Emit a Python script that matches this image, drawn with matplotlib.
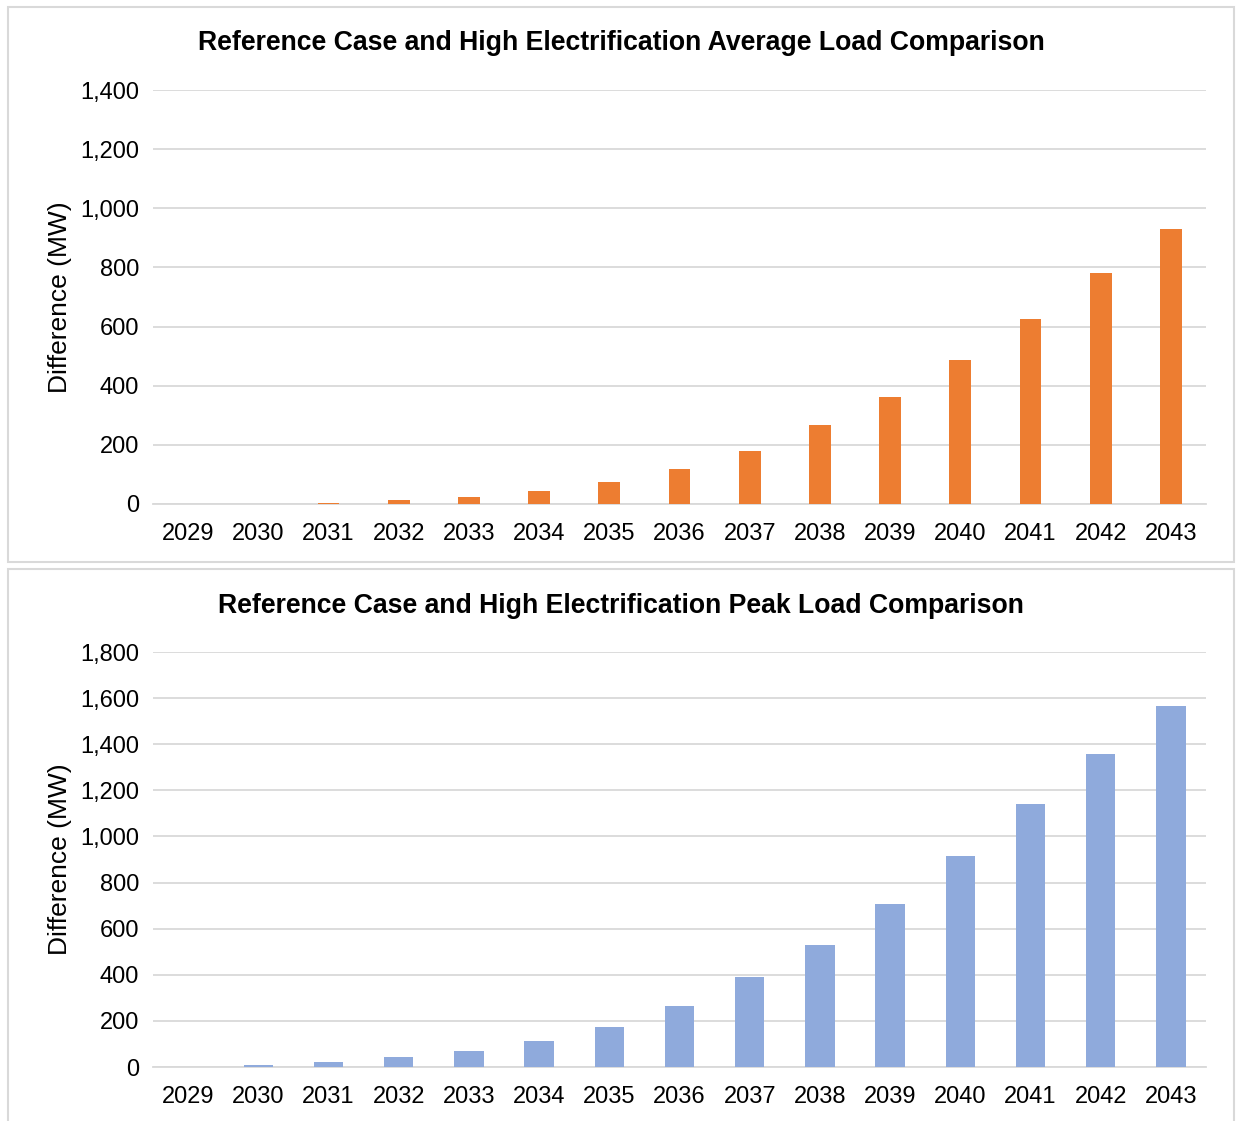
import numpy as np
import matplotlib.pyplot as plt
from matplotlib.patches import Rectangle
from matplotlib.ticker import FuncFormatter

plt.rcParams["font.family"] = ["Liberation Sans", "DejaVu Sans"]

years = [str(y) for y in range(2029, 2044)]
avg_load = [0, 1, 5, 12, 25, 44, 73, 118, 179, 267, 362, 487, 625, 781, 930]
peak_load = [0, 10, 22, 42, 68, 111, 172, 265, 390, 529, 707, 915, 1141, 1358, 1566]

avg_title = "Reference Case and High Electrification Average Load Comparison"
peak_title = "Reference Case and High Electrification Peak Load Comparison"

W, H = 1236, 1121
fig = plt.figure(figsize=(W / 100, H / 100), dpi=100)


def box(x0, y0, x1, y1):
    # pixel coords (top-left origin) -> figure fraction
    return [x0 / W, 1 - y1 / H, (x1 - x0) / W, (y1 - y0) / H]


# panel frames
for y0, y1 in [(7, 562), (569, 1125)]:
    fig.patches.append(Rectangle((8 / W, 1 - y1 / H), (1226 / W), (y1 - y0) / H,
                                 transform=fig.transFigure, fill=False,
                                 edgecolor="#d9d9d9", linewidth=1.5))


def panel(rect, values, color, width, ymax, title, title_y):
    ax = fig.add_axes(box(*rect))
    x = np.arange(len(years))
    ax.bar(x, values, width=width, color=color, zorder=3)
    ax.set_xlim(-0.5, len(years) - 0.5)
    ax.set_ylim(0, ymax)
    ax.set_yticks(np.arange(0, ymax + 1, 200))
    ax.yaxis.set_major_formatter(FuncFormatter(lambda v, p: f"{int(v):,}"))
    ax.set_xticks(x, labels=years)
    ax.grid(axis="y", color="#d9d9d9", linewidth=1.3, zorder=0)
    for s in ["top", "right", "left"]:
        ax.spines[s].set_visible(False)
    ax.spines["bottom"].set_color("#d9d9d9")
    ax.spines["bottom"].set_linewidth(1.3)
    ax.tick_params(length=0, labelsize=17, colors="black")
    ax.tick_params(axis="y", pad=10)
    ax.tick_params(axis="x", pad=14)
    ax.set_ylabel("Difference (MW)", fontsize=19, labelpad=6)
    fig.text(621 / W, 1 - title_y / H, title, ha="center", va="center",
             fontsize=19.2, fontweight="bold")
    return ax


panel((153, 90, 1206, 504), avg_load, "#ED7D31", 0.31, 1400, avg_title, 43)
panel((153, 652, 1206, 1067), peak_load, "#8FAADC", 0.42, 1800, peak_title, 606)

fig.savefig("out.png", dpi=100)
